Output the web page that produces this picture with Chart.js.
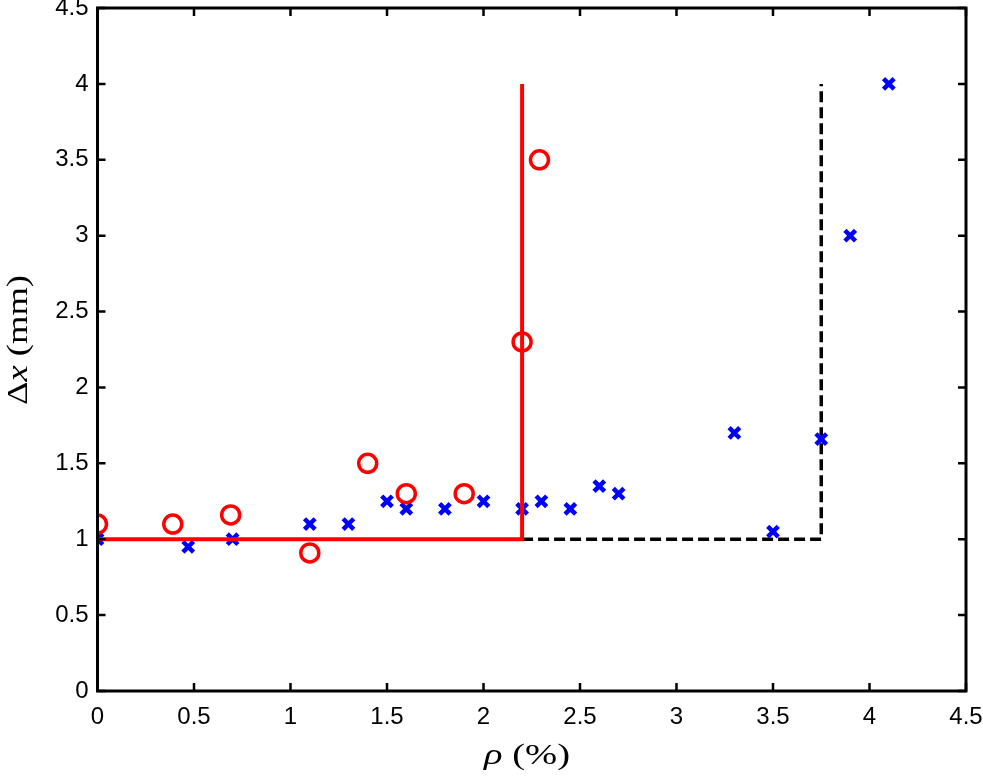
<!DOCTYPE html>
<html>
<head>
<meta charset="utf-8">
<script src="https://cdn.jsdelivr.net/npm/chart.js@4/dist/chart.umd.min.js"></script>
<style>
  html, body { margin: 0; padding: 0; background: #fff; }
  #wrap { width: 983px; height: 778px; }
</style>
</head>
<body>
<div id="wrap"><canvas id="c" width="983" height="778"></canvas></div>
<script>
// measured points (rho %, dx mm)
const circleRho = [0, 0.39, 0.69, 1.1, 1.4, 1.6, 1.9, 2.2, 2.29];
const circleDx  = [1.1, 1.1, 1.16, 0.91, 1.5, 1.3, 1.3, 2.3, 3.5];

const crossRho = [0, 0.47, 0.7, 1.1, 1.3, 1.5, 1.6, 1.8, 2.0, 2.2, 2.3, 2.45, 2.6, 2.7, 3.3, 3.5, 3.75, 3.9, 4.1];
const crossDx  = [1.0, 0.95, 1.0, 1.1, 1.1, 1.25, 1.2, 1.2, 1.25, 1.2, 1.25, 1.2, 1.35, 1.3, 1.7, 1.05, 1.66, 3.0, 4.0];

// threshold steps
const redStepRho = [0, 2.2, 2.2];
const redStepDx  = [1, 1, 4];
const blackStepRho = [2.2, 3.75, 3.75];
const blackStepDx  = [1, 1, 4];

const tickValues = [0, 0.5, 1, 1.5, 2, 2.5, 3, 3.5, 4, 4.5];

const pts = (xs, ys) => xs.map((x, i) => ({ x: x, y: ys[i] }));

const tickFont = { family: '"Liberation Sans", Arial, sans-serif', size: 24 };

// draw a label made of [text, italic] runs, stretched to a given width
function drawRuns(ctx, runs, cx, cy, size, width) {
    const fonts = runs.map(r => (r[1] ? 'italic ' : '') + size + 'px "Liberation Serif"');
    const widths = runs.map((r, i) => { ctx.font = fonts[i]; return ctx.measureText(r[0]).width; });
    const total = widths.reduce((a, b) => a + b, 0);
    ctx.save();
    ctx.translate(cx, cy);
    ctx.scale(width / total, 1);
    let x = -total / 2;
    runs.forEach((r, i) => {
        ctx.font = fonts[i];
        ctx.fillText(r[0], x, 0);
        x += widths[i];
    });
    ctx.restore();
}

// frame with inward ticks on all sides + axis titles
const framePlugin = {
    id: 'frame',
    afterDatasetsDraw(chart) {
        const { ctx, chartArea: a, scales } = chart;
        ctx.save();
        ctx.strokeStyle = '#000';
        ctx.lineWidth = 3;
        ctx.lineCap = 'square';
        ctx.strokeRect(a.left, a.top, a.right - a.left, a.bottom - a.top);
        ctx.lineWidth = 2.5;
        ctx.lineCap = 'butt';
        const t = 8;
        tickValues.forEach(v => {
            const px = scales.x.getPixelForValue(v);
            const py = scales.y.getPixelForValue(v);
            ctx.beginPath();
            ctx.moveTo(px, a.bottom); ctx.lineTo(px, a.bottom - t);
            ctx.moveTo(px, a.top); ctx.lineTo(px, a.top + t);
            ctx.moveTo(a.left, py); ctx.lineTo(a.left + t, py);
            ctx.moveTo(a.right, py); ctx.lineTo(a.right - t, py);
            ctx.stroke();
        });
        ctx.restore();

        // axis titles
        ctx.save();
        ctx.fillStyle = '#000';
        ctx.textBaseline = 'alphabetic';
        drawRuns(ctx, [['\u03C1', true], [' (%)', false]], 527, 764, 29, 86);
        ctx.translate(27, 340);
        ctx.rotate(-Math.PI / 2);
        drawRuns(ctx, [['\u0394', false], ['x', true], [' (mm)', false]], 0, 0, 29, 130);
        ctx.restore();
    }
};

new Chart(document.getElementById('c'), {
    type: 'scatter',
    data: {
        datasets: [
            {
                data: pts(circleRho, circleDx),
                pointStyle: 'circle',
                pointRadius: 9,
                borderColor: '#ff0000',
                backgroundColor: 'rgba(0,0,0,0)',
                borderWidth: 3.5,
                order: 0
            },
            {
                data: pts(redStepRho, redStepDx),
                showLine: true,
                pointRadius: 0,
                borderColor: '#ff0000',
                borderWidth: 4,
                order: 1
            },
            {
                data: pts(crossRho, crossDx),
                pointStyle: 'crossRot',
                pointRadius: 7.5,
                borderColor: '#0000ff',
                backgroundColor: '#0000ff',
                borderWidth: 4.5,
                order: 2
            },
            {
                data: pts(blackStepRho, blackStepDx),
                showLine: true,
                pointRadius: 0,
                borderColor: '#000',
                borderWidth: 3.5,
                borderDash: [11, 5],
                order: 3
            }
        ]
    },
    options: {
        responsive: false,
        animation: false,
        layout: { autoPadding: false, padding: { left: 0, top: 8, right: 17, bottom: 0 } },
        plugins: { legend: { display: false }, tooltip: { enabled: false } },
        scales: {
            x: {
                type: 'linear',
                min: 0, max: 4.5,
                afterBuildTicks: s => { s.ticks = tickValues.map(v => ({ value: v })); },
                afterFit: s => { s.height = 87; s.paddingLeft = 0; s.paddingRight = 0; },
                grid: { display: false, drawTicks: false },
                border: { display: false },
                ticks: { padding: 12, maxRotation: 0, color: '#000', font: tickFont, callback: v => String(v) }
            },
            y: {
                type: 'linear',
                min: 0, max: 4.5,
                afterBuildTicks: s => { s.ticks = tickValues.map(v => ({ value: v })); },
                afterFit: s => { s.width = 97.5; s.paddingTop = 0; s.paddingBottom = 0; },
                grid: { display: false, drawTicks: false },
                border: { display: false },
                ticks: { padding: 9, color: '#000', font: tickFont, callback: v => String(v) }
            }
        }
    },
    plugins: [framePlugin]
});
</script>
</body>
</html>
